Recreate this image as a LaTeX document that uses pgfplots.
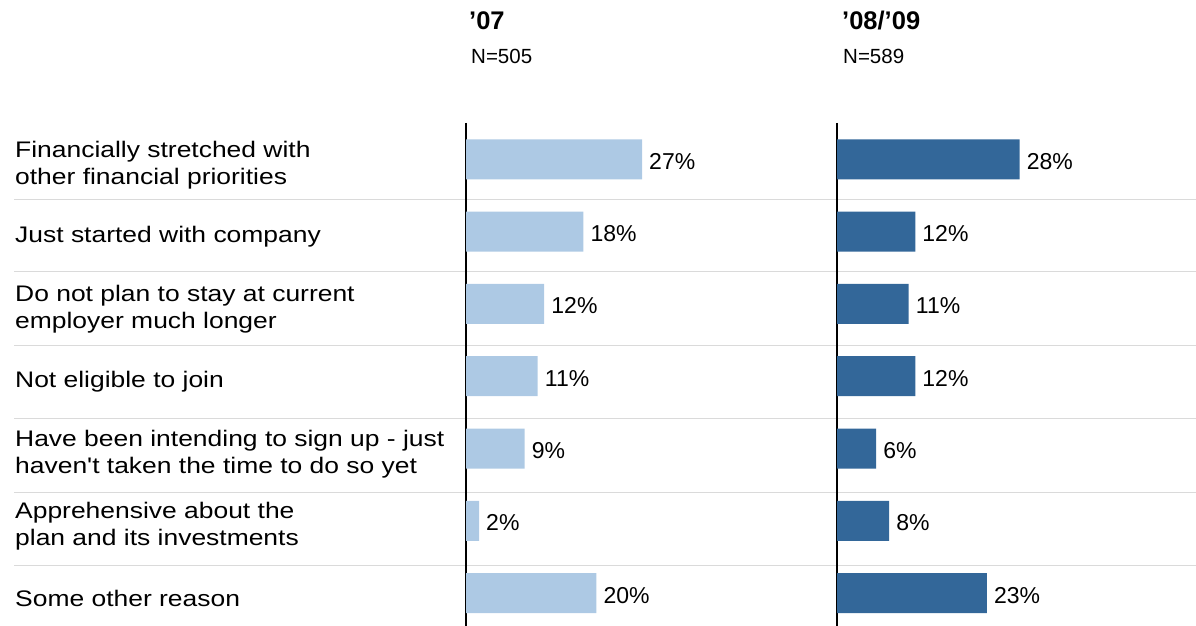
\documentclass[border=0pt]{standalone}
\usepackage{fontspec}
\setmainfont{Liberation Sans}
\newfontfamily\catfont{Liberation Sans}[FakeStretch=1.175]
\usepackage{pgfplots}
\usepackage{pgfplotstable}
\pgfplotsset{compat=1.18}
\definecolor{lightbar}{HTML}{ADC9E4}
\definecolor{darkbar}{HTML}{336799}
\definecolor{sepgray}{HTML}{DADADA}

\pgfplotstableread{
row y07 y0809
0 27 28
1 18 12
2 12 11
3 11 12
4 9 6
5 2 8
6 20 23
}\data

\pgfplotsset{
  panel/.style={
    x=6.52pt, y=72.3pt, y dir=reverse,
    ymin=-0.502, ymax=6.455, xmin=0, xmax=50,
    anchor=north west,
    axis x line=none, axis y line*=left,
    axis line style={black, line width=1.3pt},
    major tick length=0pt,
    xbar, bar width=40pt, clip=false,
    point meta=x,
    nodes near coords={\pgfmathprintnumber[assume math mode=true]{\pgfplotspointmeta}\%},
    every node near coord/.append style={anchor=west, inner sep=0pt, xshift=7pt, yshift=-2pt,
      font=\fontsize{23}{26}\selectfont, text=black},
  },
}

\begin{document}
\begin{tikzpicture}
\path[use as bounding box] (0pt,0pt) rectangle (1196pt,626pt);
\foreach \yy in {199.5,271.5,345.5,418.5,492.5,565.5}{
  \draw[sepgray, line width=1.6pt] (14pt,626pt-\yy pt) -- (1196pt,626pt-\yy pt);
}
\begin{axis}[panel, at={(466pt,503pt)},
    ytick={0,1,2,3,4,5,6},
    yticklabels={{Financially stretched with\\other financial priorities},
      {Just started with company},
      {Do not plan to stay at current\\employer much longer},
      {Not eligible to join},
      {Have been intending to sign up - just\\haven't taken the time to do so yet},
      {Apprehensive about the\\plan and its investments},
      {Some other reason}},
    yticklabel style={anchor=west, align=left, inner sep=0pt, xshift=-451pt, yshift=-5.5pt,
      font=\catfont\fontsize{22.5}{27}\selectfont},
  ]
  \addplot[fill=lightbar, draw=none] table[x=y07, y=row] {\data};
  \node[anchor=base west, inner sep=0pt, xshift=3pt, yshift=93pt,
    font=\bfseries\fontsize{25.5}{28}\selectfont] at (axis description cs:0,1) {’07};
  \node[anchor=base west, inner sep=0pt, xshift=5pt, yshift=59.5pt,
    font=\fontsize{20.5}{24}\selectfont] at (axis description cs:0,1) {N=505};
\end{axis}
\begin{axis}[panel, at={(837pt,503pt)}, ytick=\empty]
  \addplot[fill=darkbar, draw=none] table[x=y0809, y=row] {\data};
  \node[anchor=base west, inner sep=0pt, xshift=5pt, yshift=93pt,
    font=\bfseries\fontsize{25.5}{28}\selectfont] at (axis description cs:0,1) {’08/’09};
  \node[anchor=base west, inner sep=0pt, xshift=6pt, yshift=59pt,
    font=\fontsize{20.5}{24}\selectfont] at (axis description cs:0,1) {N=589};
\end{axis}
\end{tikzpicture}
\end{document}
